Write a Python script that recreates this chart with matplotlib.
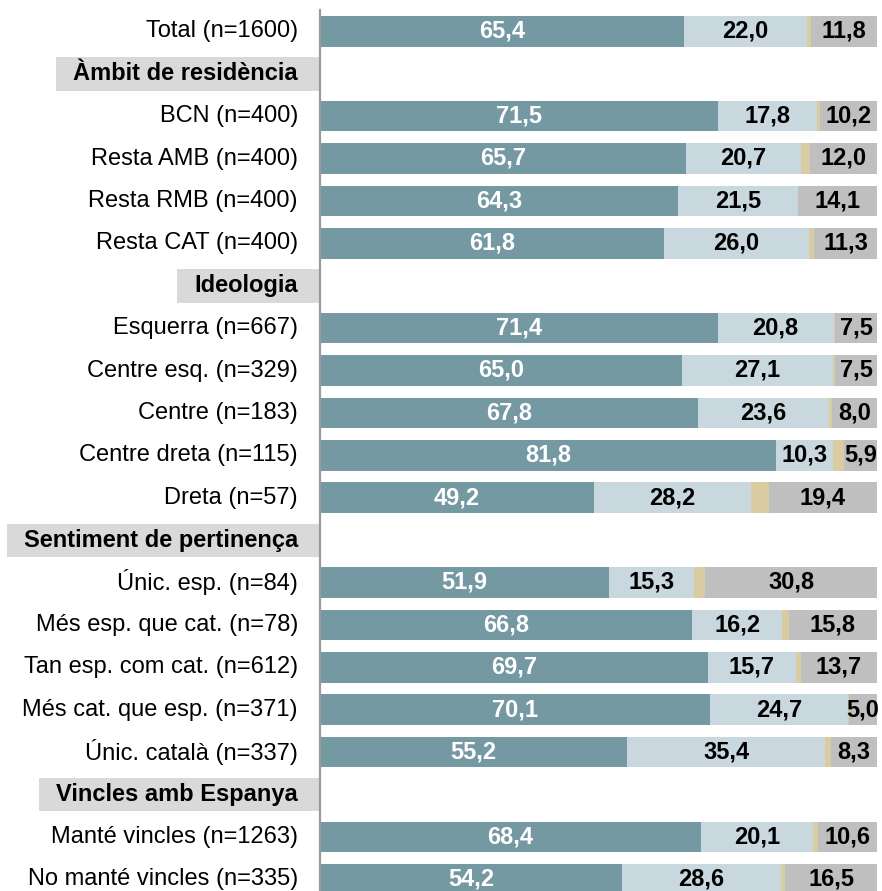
import matplotlib
matplotlib.use('Agg')
import matplotlib.pyplot as plt
from matplotlib.patches import Rectangle
from matplotlib.transforms import blended_transform_factory

plt.rcParams['font.family'] = ['Liberation Sans', 'DejaVu Sans']

# files del gràfic: None als valors indica un títol de grup
labels = ['Total (n=1600)', 'Àmbit de residència',
          'BCN (n=400)', 'Resta AMB (n=400)', 'Resta RMB (n=400)', 'Resta CAT (n=400)',
          'Ideologia',
          'Esquerra (n=667)', 'Centre esq. (n=329)', 'Centre (n=183)',
          'Centre dreta (n=115)', 'Dreta (n=57)',
          'Sentiment de pertinença',
          'Únic. esp. (n=84)', 'Més esp. que cat. (n=78)', 'Tan esp. com cat. (n=612)',
          'Més cat. que esp. (n=371)', 'Únic. català (n=337)',
          'Vincles amb Espanya',
          'Manté vincles (n=1263)', 'No manté vincles (n=335)']
headers = ['Àmbit de residència', 'Ideologia', 'Sentiment de pertinença', 'Vincles amb Espanya']

serie1 = [65.4, None, 71.5, 65.7, 64.3, 61.8, None, 71.4, 65.0, 67.8, 81.8, 49.2,
          None, 51.9, 66.8, 69.7, 70.1, 55.2, None, 68.4, 54.2]
serie2 = [22.0, None, 17.8, 20.7, 21.5, 26.0, None, 20.8, 27.1, 23.6, 10.3, 28.2,
          None, 15.3, 16.2, 15.7, 24.7, 35.4, None, 20.1, 28.6]
serie3 = [0.8, None, 0.5, 1.6, 0.1, 0.9, None, 0.3, 0.4, 0.6, 2.0, 3.2,
          None, 2.0, 1.2, 0.9, 0.2, 1.1, None, 0.9, 0.7]
serie4 = [11.8, None, 10.2, 12.0, 14.1, 11.3, None, 7.5, 7.5, 8.0, 5.9, 19.4,
          None, 30.8, 15.8, 13.7, 5.0, 8.3, None, 10.6, 16.5]

colors = ['#7599a3', '#c8d8de', '#d9cca3', '#bfbfbf']
text_colors = ['white', 'black', None, 'black']
fs = 17

W, H = 882, 891
fig = plt.figure(figsize=(W / 100, H / 100), dpi=100)
left_px, right_px, top_px = 320, 877, 10
ax = fig.add_axes([left_px / W, 0, (right_px - left_px) / W, (H - top_px) / H])

row_px = 42.4
first_px = 31.3
n = len(labels)
ax.set_xlim(0, 100)
ax.set_ylim(n - 1 + (H - (first_px + row_px * (n - 1))) / row_px, -(first_px - top_px) / row_px)

series = [serie1, serie2, serie3, serie4]
for i in range(n):
    if serie1[i] is None:
        continue
    start = 0
    for k, s in enumerate(series):
        v = s[i]
        ax.barh(i, v, left=start, height=0.72, color=colors[k], linewidth=0)
        if text_colors[k] is not None:
            ax.text(start + v / 2, i, f'{v:.1f}'.replace('.', ','), ha='center', va='center',
                    color=text_colors[k], fontsize=fs, fontweight='bold', clip_on=False)
        start += v

# etiquetes de les files
trans = blended_transform_factory(ax.transAxes, ax.transData)
label_x = -22 / (right_px - left_px)
txts = []
for i, lab in enumerate(labels):
    bold = lab in headers
    t = ax.text(label_x, i, lab, transform=trans, ha='right', va='center',
                fontsize=fs, fontweight='bold' if bold else 'normal', color='black')
    if bold:
        txts.append((i, t))

# fons gris dels títols de grup
fig.canvas.draw()
renderer = fig.canvas.get_renderer()
for i, t in txts:
    bb = t.get_window_extent(renderer)
    x0 = (bb.x0 - 17 - ax.bbox.x0) / ax.bbox.width
    ax.add_patch(Rectangle((x0, i - 0.39), -x0, 0.79, transform=trans,
                           facecolor='#d9d9d9', edgecolor='none', clip_on=False, zorder=0))

for sp in ['top', 'right', 'bottom']:
    ax.spines[sp].set_visible(False)
ax.spines['left'].set_color('#9a9a9a')
ax.spines['left'].set_linewidth(1.6)
ax.set_xticks([])
ax.set_yticks([])

fig.savefig('out.png', dpi=100)
